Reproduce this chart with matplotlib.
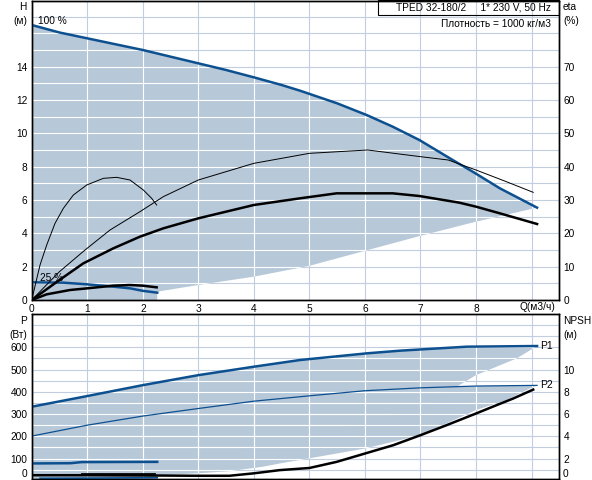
import matplotlib
matplotlib.use("Agg")
import matplotlib.pyplot as plt
from matplotlib.patches import Polygon, Rectangle

plt.rcParams["font.family"] = ["Liberation Sans", "DejaVu Sans"]
plt.rcParams["font.size"] = 7.3

# --- top chart: Q-H and efficiency ---
q_h100 = [0, 0.5, 1, 1.5, 2, 2.5, 3, 3.5, 4, 4.5, 4.83, 5.5, 6.03, 6.5, 6.98, 7.58, 7.96, 8.43, 9.1]
h_100 = [16.5, 16.05, 15.7, 15.35, 15.0, 14.6, 14.2, 13.8, 13.36, 12.9, 12.56, 11.8, 11.1, 10.4, 9.6, 8.4, 7.66, 6.7, 5.54]

q_h25 = [0, 0.57, 1.0, 1.47, 1.77, 2.0, 2.26]
h_25 = [1.06, 1.04, 0.94, 0.8, 0.7, 0.55, 0.44]

q_hlow = [2.26, 3, 4, 5, 6, 7, 8, 9.1]
h_low = [0.5, 0.9, 1.4, 2.05, 2.95, 3.85, 4.7, 5.54]

q_eta_p = [0, 0.5, 0.96, 1.41, 1.95, 2.37, 3, 4, 5, 6.05, 7, 7.5, 8, 8.5, 9.03]
eta_p = [0, 8.5, 15, 21, 26.5, 31, 36, 41, 44, 45, 43, 42, 39, 35.8, 32.3]

q_eta_t = [0, 0.5, 0.93, 1.47, 1.95, 2.37, 3, 4, 4.83, 5.49, 6.5, 6.98, 7.7, 8.0, 8.43, 9.1]
eta_t = [0, 6, 11, 15.5, 19, 21.5, 24.5, 28.5, 30.5, 32, 32, 31.2, 29.2, 28, 26, 22.8]

q_eta_p25 = [0, 0.15, 0.27, 0.42, 0.57, 0.75, 0.99, 1.29, 1.53, 1.77, 2.01, 2.16, 2.25]
eta_p25 = [0, 10.5, 16.5, 23, 27.5, 31.5, 34.5, 36.5, 36.8, 36, 33, 30.5, 28.5]

q_eta_t25 = [0, 0.27, 0.69, 1.0, 1.47, 1.77, 2.0, 2.25]
eta_t25 = [0, 1.7, 3, 3.5, 4.3, 4.5, 4.3, 3.8]

# --- bottom chart: power and NPSH ---
q_p1 = [0, 1, 2, 3, 4, 4.83, 6.03, 6.63, 7.23, 7.83, 9.1]
p1 = [333, 381, 430, 475, 513, 543, 573, 585, 594, 603, 606]
q_p2 = [0, 1, 2, 3, 4, 5, 6, 7, 8, 9.1]
p2 = [201, 250, 291, 325, 358, 382, 405, 418, 426, 429]
q_p1_25 = [0, 0.7, 0.9, 2.26]
p1_25 = [78, 79, 84, 85]
q_p2_25 = [0.15, 1.0, 1.73, 2.26]
p2_25 = [11, 12, 13, 14]
q_p1_low = [9.1, 8.73, 8.0, 7.7, 7.0, 5.0, 3.0, 0]
p1_low = [606, 550, 475, 430, 330, 200, 110, 100]
q_p2_low = [9.1, 8.97, 8.55, 8.0, 7.47, 7.0, 6.0, 5.0, 4.47, 4.16, 3.56, 2.96, 2.26]
p2_low = [429, 415, 363, 318, 258, 205, 145, 101, 78, 63, 43, 33, 25]

q_npsh = [0, 1, 2, 3, 3.56, 4, 4.47, 5, 5.49, 6, 6.51, 7, 7.47, 8, 8.37, 8.67, 9.03]
npsh = [0.5, 0.5, 0.48, 0.45, 0.45, 0.67, 0.96, 1.15, 1.7, 2.45, 3.2, 4.1, 5.0, 6.05, 6.8, 7.4, 8.2]
q_npsh25 = [0.9, 2.2]
npsh25 = [0.58, 0.58]

x_ticks = [0, 1, 2, 3, 4, 5, 6, 7, 8]
h_ticks = [0, 2, 4, 6, 8, 10, 12, 14]
eta_ticks = [0, 10, 20, 30, 40, 50, 60, 70]
p_ticks = [100, 200, 300, 400, 500, 600]
npsh_ticks = [2, 4, 6, 8, 10]

BLUE = "#0d5090"
SHADE = "#b7c8d9"
GRID = "#c2cee0"
W, H = 592, 480


def px(x, y):
    return x / W, 1 - y / H


def grid(ax, xs, ys, clip_patches):
    for x in xs:
        ax.axvline(x, color=GRID, lw=0.8, zorder=0.5)
    for y in ys:
        ax.axhline(y, color=GRID, lw=0.8, zorder=0.5)
    for patch in clip_patches:
        for x in xs:
            ax.axvline(x, color="white", lw=0.8, zorder=1.5).set_clip_path(patch)
        for y in ys:
            ax.axhline(y, color="white", lw=0.8, zorder=1.5).set_clip_path(patch)


def style(ax):
    for s in ax.spines.values():
        s.set_linewidth(1.0)
        s.set_color("black")
    ax.tick_params(length=0, pad=3.2)


fig = plt.figure(figsize=(W / 100, H / 100), dpi=100)
left, width = 31.7 / W, 527.6 / W

# top chart
ax_h = fig.add_axes([left, 180 / H, width, 299.5 / H])
ax_h.set_xlim(0, 9.5)
ax_h.set_ylim(0, 17.97)
top_poly = Polygon(list(zip(q_h100, h_100)) + list(zip(q_hlow[::-1], h_low[::-1])) + [(2.26, 0), (0, 0)],
                   closed=True, fc=SHADE, ec="none", zorder=1)
ax_h.add_patch(top_poly)
grid(ax_h, range(1, 10), range(1, 18), [top_poly])
ax_h.plot(q_h100, h_100, color=BLUE, lw=1.8, zorder=3)
ax_h.plot(q_h25, h_25, color=BLUE, lw=1.8, zorder=3)
ax_h.set_xticks(x_ticks)
ax_h.set_yticks(h_ticks)
style(ax_h)
ax_h.text(0.11, 16.76, "100 %", ha="left", va="center")
ax_h.text(0.15, 1.34, "25 %", ha="left", va="center")

ax_e = ax_h.twinx()
ax_e.set_ylim(0, 89.85)
ax_e.plot(q_eta_p, eta_p, color="black", lw=0.7)
ax_e.plot(q_eta_p25, eta_p25, color="black", lw=0.7)
ax_e.plot(q_eta_t, eta_t, color="black", lw=1.8)
ax_e.plot(q_eta_t25, eta_t25, color="black", lw=1.8)
ax_e.set_yticks(eta_ticks)
style(ax_e)

# bottom chart
ax_p = fig.add_axes([left, 1 / H, width, 165 / H])
ax_p.set_xlim(0, 9.5)
ax_p.set_ylim(8, 750)
poly1 = Polygon(list(zip(q_p1, p1)) + list(zip(q_p1_low, p1_low)), closed=True, fc=SHADE, ec="none", zorder=1)
poly2 = Polygon(list(zip(q_p2, p2)) + list(zip(q_p2_low, p2_low)) + [(2.26, 0), (0, 0)],
                closed=True, fc=SHADE, ec="none", zorder=1)
ax_p.add_patch(poly1)
ax_p.add_patch(poly2)
grid(ax_p, range(1, 10), range(50, 750, 50), [poly1, poly2])
ax_p.plot(q_p1, p1, color=BLUE, lw=1.8, zorder=3)
ax_p.plot(q_p2, p2, color=BLUE, lw=0.9, zorder=3)
ax_p.plot(q_p1_25, p1_25, color=BLUE, lw=1.8, zorder=3)
ax_p.plot(q_p2_25, p2_25, color=BLUE, lw=1.2, zorder=3)
ax_p.set_xticks(x_ticks)
ax_p.set_xticklabels([])
ax_p.set_yticks(p_ticks)
style(ax_p)
ax_p.text(9.15, p1[-1], "P1", ha="left", va="center", fontsize=7.5)
ax_p.text(9.15, p2[-1], "P2", ha="left", va="center", fontsize=7.5)

ax_n = ax_p.twinx()
ax_n.set_ylim(8 / 50, 15)
ax_n.plot(q_npsh, npsh, color="black", lw=1.8)
ax_n.plot(q_npsh25, npsh25, color="black", lw=2.0)
ax_n.set_yticks(npsh_ticks)
style(ax_n)

# labels around the axes
fig.text(*px(27, 7), "H", ha="right", va="center")
fig.text(*px(27, 20.7), "(м)", ha="right", va="center")
fig.text(*px(563, 7), "eta", ha="left", va="center")
fig.text(*px(563, 20.5), "(%)", ha="left", va="center")
fig.text(*px(537.5, 307.5), "Q(м3/ч)", ha="center", va="center")
fig.text(*px(27, 321), "P", ha="right", va="center")
fig.text(*px(27, 335), "(Вт)", ha="right", va="center")
fig.text(*px(563, 321.5), "NPSH", ha="left", va="center")
fig.text(*px(563, 335), "(м)", ha="left", va="center")
fig.text(*px(27, 474.3), "0", ha="right", va="center")
fig.text(*px(563, 474.3), "0", ha="left", va="center")

fig.add_artist(Rectangle(px(378.3, 15), 181 / W, 15 / H, transform=fig.transFigure,
                         fill=False, ec="black", lw=0.8))
fig.text(*px(551, 7.5), "TPED 32-180/2     1* 230 V, 50 Hz", ha="right", va="center")
fig.text(*px(551, 24), "Плотность = 1000 кг/м3", ha="right", va="center")

fig.savefig("out.png", dpi=100)
